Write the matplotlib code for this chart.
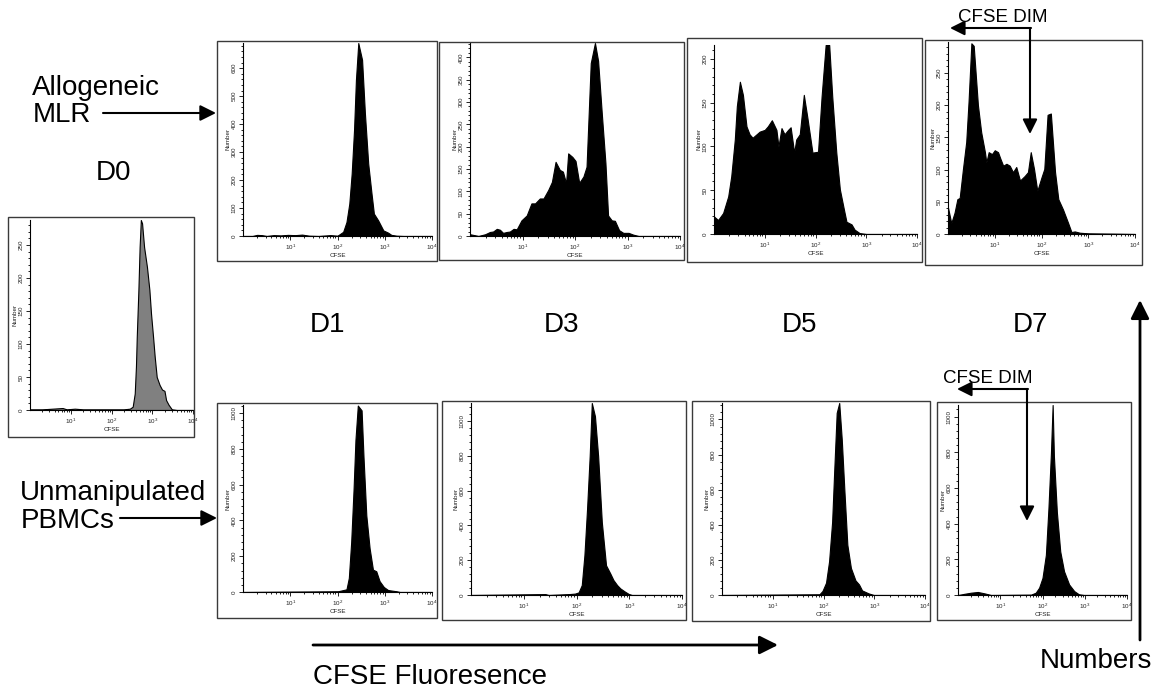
import numpy as np
import matplotlib.pyplot as plt
from matplotlib.patches import Rectangle
from matplotlib.ticker import LogLocator, MultipleLocator, NullFormatter

plt.rcParams['font.family'] = ['Liberation Sans', 'DejaVu Sans']
plt.rcParams['mathtext.fontset'] = 'custom'
plt.rcParams['mathtext.rm'] = 'Liberation Sans'
plt.rcParams['mathtext.default'] = 'regular'

W, H = 1156, 688

# CFSE histograms: log10 fluorescence vs event count
d0_logx = [0.0, 0.3, 0.55, 0.8, 0.9, 1.1, 1.3, 1.6, 2.0, 2.3, 2.45, 2.52, 2.57, 2.60, 2.62, 2.66, 2.69,
           2.72, 2.75, 2.80, 2.87, 2.93, 2.97, 3.02, 3.06, 3.11, 3.18, 3.24, 3.30, 3.34, 3.40, 3.48, 3.6, 4.0]
d0_count = [1, 1, 2, 3, 1, 2, 1, 1, 1, 1, 2, 5, 25, 66, 111, 182, 247,
            288, 283, 247, 217, 182, 146, 111, 81, 50, 38, 31, 29, 15, 8, 1, 0, 0]

mlr_d1_logx = [0.0, 0.2, 0.3, 0.4, 0.5, 0.65, 0.8, 0.95, 1.1, 1.25, 1.4, 1.6, 1.85, 2.0, 2.12, 2.19, 2.25,
               2.30, 2.35, 2.39, 2.44, 2.52, 2.58, 2.65, 2.72, 2.77, 2.86, 2.97, 3.07, 3.14, 3.25, 3.4, 4.0]
mlr_d1_count = [0, 0, 4, 3, 0, 3, 2, 4, 3, 5, 1, 0, 3, 1, 15, 50, 116,
                223, 379, 558, 690, 630, 439, 259, 152, 80, 56, 20, 12, 4, 1, 0, 0]

mlr_d3_logx = [0.0, 0.16, 0.29, 0.38, 0.44, 0.51, 0.57, 0.63, 0.70, 0.76, 0.83, 0.89, 0.98, 1.08, 1.17,
               1.24, 1.33, 1.40, 1.49, 1.56, 1.63, 1.71, 1.77, 1.83, 1.87, 1.95, 2.01, 2.08, 2.16, 2.22,
               2.30, 2.38, 2.44, 2.51, 2.58, 2.63, 2.70, 2.76, 2.84, 2.92, 3.02, 3.11, 3.21, 4.0]
mlr_d3_count = [4, 0, 4, 9, 10, 16, 14, 7, 9, 10, 16, 15, 35, 46, 73,
                73, 84, 84, 103, 121, 166, 148, 144, 118, 185, 177, 168, 119, 133, 155,
                387, 432, 392, 275, 163, 46, 35, 34, 13, 7, 7, 3, 0, 0]

mlr_d5_logx = [0.0, 0.08, 0.18, 0.28, 0.34, 0.41, 0.45, 0.51, 0.57, 0.64, 0.70, 0.76, 0.80, 0.90, 1.00,
               1.06, 1.14, 1.23, 1.27, 1.33, 1.39, 1.46, 1.51, 1.58, 1.62, 1.69, 1.77, 1.84, 1.94, 2.05,
               2.12, 2.20, 2.27, 2.33, 2.41, 2.48, 2.56, 2.61, 2.71, 2.77, 2.87, 3.0, 4.0]
mlr_d5_count = [20, 16, 24, 43, 66, 108, 146, 174, 159, 123, 114, 110, 112, 117, 119,
                123, 130, 119, 100, 121, 114, 119, 122, 93, 108, 114, 159, 133, 93, 94,
                157, 216, 216, 157, 93, 51, 28, 14, 11, 5, 1, 0, 0]

mlr_d7_logx = [0.0, 0.07, 0.14, 0.20, 0.25, 0.32, 0.39, 0.44, 0.50, 0.55, 0.64, 0.71, 0.79, 0.82, 0.87,
               0.94, 1.00, 1.07, 1.12, 1.18, 1.25, 1.32, 1.39, 1.46, 1.54, 1.64, 1.71, 1.77, 1.84, 1.91,
               2.00, 2.06, 2.13, 2.20, 2.29, 2.36, 2.46, 2.57, 2.64, 2.71, 2.82, 3.0, 3.57, 4.0]
mlr_d7_count = [41, 17, 33, 54, 56, 101, 143, 206, 296, 292, 200, 158, 127, 111, 127,
                124, 130, 127, 117, 106, 109, 106, 96, 104, 83, 90, 96, 127, 101, 67,
                88, 101, 185, 187, 96, 54, 38, 17, 3, 4, 2, 1, 0.5, 0]

pbmc_d1_logx = [0.0, 2.01, 2.19, 2.24, 2.29, 2.34, 2.38, 2.43, 2.51, 2.55, 2.61, 2.68, 2.75, 2.82,
                2.89, 2.98, 3.07, 3.25, 3.32, 4.0]
pbmc_d1_count = [0, 4, 15, 79, 281, 574, 850, 1042, 1015, 758, 428, 244, 125, 116,
                 61, 28, 11, 4, 0, 0]

pbmc_d3_logx = [0.0, 1.41, 1.47, 1.85, 1.97, 2.04, 2.10, 2.15, 2.20, 2.25, 2.29, 2.35, 2.41, 2.48,
                2.56, 2.64, 2.70, 2.77, 2.83, 2.92, 2.99, 3.05, 4.0]
pbmc_d3_count = [0, 5, 0, 5, 8, 15, 57, 229, 495, 800, 1105, 1029, 800, 419,
                 171, 124, 86, 57, 38, 19, 6, 0, 0]

pbmc_d5_logx = [0.0, 1.92, 1.98, 2.05, 2.11, 2.17, 2.21, 2.26, 2.31, 2.36, 2.41, 2.47, 2.54, 2.63,
                2.70, 2.76, 2.89, 2.99, 4.0]
pbmc_d5_count = [0, 4, 23, 70, 192, 417, 699, 1038, 1094, 886, 605, 286, 154, 83,
                 60, 26, 9, 0, 0]

pbmc_d7_logx = [0.0, 0.16, 0.31, 0.47, 0.63, 0.78, 1.73, 1.84, 1.92, 2.0, 2.08, 2.14, 2.20, 2.24,
                2.27, 2.34, 2.42, 2.51, 2.63, 2.75, 2.86, 2.98, 4.0]
pbmc_d7_count = [0, 7, 13, 17, 9, 0, 2, 13, 41, 96, 225, 483, 797, 1065,
                 779, 465, 244, 133, 59, 22, 4, 0, 0]

day_labels = ['D1', 'D3', 'D5', 'D7']

fig = plt.figure(figsize=(W / 100, H / 100), dpi=100)

# overlay in pixel coordinates for frames, labels and arrows
ov = fig.add_axes([0, 0, 1, 1])
ov.set_xlim(0, W)
ov.set_ylim(H, 0)
ov.axis('off')
ov.set_zorder(10)


def draw_panel(frame, box, logx, count, ymax, ystep, yminor, face='black'):
    fl, ft, fr, fb = frame
    ov.add_patch(Rectangle((fl, ft), fr - fl, fb - ft, fill=False, lw=1, ec='#3a3a3a'))
    l, t, r, b = box
    ax = fig.add_axes([l / W, 1 - b / H, (r - l) / W, (b - t) / H])
    ax.patch.set_alpha(0)
    x = 10 ** np.asarray(logx, float)
    ax.fill_between(x, 0, count, facecolor=face, edgecolor='black', linewidth=0.8)
    ax.set_xscale('log')
    ax.set_xlim(1, 1e4)
    ax.set_ylim(0, ymax)
    ax.set_xticks([10, 100, 1000, 10000])
    ax.set_xticklabels([r'$10^{%d}$' % k for k in range(1, 5)])
    ax.xaxis.set_minor_locator(LogLocator(base=10, subs=np.arange(2, 10)))
    ax.xaxis.set_minor_formatter(NullFormatter())
    ax.yaxis.set_major_locator(MultipleLocator(ystep))
    ax.yaxis.set_minor_locator(MultipleLocator(yminor))
    ax.tick_params(which='both', direction='out', width=0.6, labelsize=4.5, pad=1.5,
                   color='black', labelcolor='#222222')
    ax.tick_params(which='major', length=3)
    ax.tick_params(which='minor', length=1.5)
    ax.tick_params(axis='y', labelrotation=90)
    for lab in ax.get_yticklabels():
        lab.set_va('center')
    for s in ('top', 'right'):
        ax.spines[s].set_visible(False)
    for s in ('left', 'bottom'):
        ax.spines[s].set_linewidth(0.8)
    ax.set_xlabel('CFSE', fontsize=4.5, labelpad=1, color='#222222')
    ax.set_ylabel('Number', fontsize=4.5, labelpad=1, color='#222222')
    return ax


# D0 starting population
draw_panel((8, 217, 194, 437), (30, 220, 193, 410), d0_logx, d0_count, 288, 50, 10, face='#808080')

# allogeneic MLR row
draw_panel((217, 41, 437, 261), (243, 43, 432, 236), mlr_d1_logx, mlr_d1_count, 690, 100, 20)
draw_panel((439, 42, 684, 260), (470, 43, 680, 236), mlr_d3_logx, mlr_d3_count, 432, 50, 10)
draw_panel((687, 38, 922, 262), (714, 45, 917, 234), mlr_d5_logx, mlr_d5_count, 216, 50, 10)
draw_panel((925, 40, 1142, 265), (948, 42, 1135, 234), mlr_d7_logx, mlr_d7_count, 298, 50, 10)

# unmanipulated PBMC row
draw_panel((217, 403, 437, 618), (243, 405, 432, 592), pbmc_d1_logx, pbmc_d1_count, 1045, 200, 40)
draw_panel((442, 401, 686, 620), (471, 403, 682, 595), pbmc_d3_logx, pbmc_d3_count, 1105, 200, 40)
draw_panel((692, 401, 930, 621), (722, 403, 925, 595), pbmc_d5_logx, pbmc_d5_count, 1094, 200, 40)
draw_panel((937, 402, 1131, 620), (958, 405, 1127, 595), pbmc_d7_logx, pbmc_d7_count, 1065, 200, 40)

big = dict(fontsize=20, color='black')
ov.text(32, 95, 'Allogeneic', ha='left', va='baseline', **big)
ov.text(33, 122, 'MLR', ha='left', va='baseline', **big)
ov.text(114, 180, 'D0', ha='center', va='baseline', **big)
ov.text(20, 500, 'Unmanipulated', ha='left', va='baseline', **big)
ov.text(21, 528, 'PBMCs', ha='left', va='baseline', **big)
for lab, xc in zip(day_labels, [327, 562, 800, 1030]):
    ov.text(xc, 332, lab, ha='center', va='baseline', **big)
ov.text(313, 684, 'CFSE Fluoresence', ha='left', va='baseline', **big)
ov.text(1152, 668, 'Numbers', ha='right', va='baseline', **big)


def arrow(tail, tip, lw=1.5, scale=12):
    ov.annotate('', xy=tip, xytext=tail,
                arrowprops=dict(arrowstyle='-|>,head_length=0.8,head_width=0.4', lw=lw,
                                color='black', shrinkA=0, shrinkB=0, mutation_scale=scale))


arrow((103, 113), (216, 113))
arrow((120, 518), (217, 518))
arrow((313, 645), (778, 645), lw=2, scale=14)
arrow((1140, 640), (1140, 300), lw=2, scale=14)

# CFSE DIM gates
ov.text(1003, 22, 'CFSE DIM', ha='center', va='baseline', fontsize=13.5)
arrow((1031, 28), (950, 28), lw=1.5, scale=11)
arrow((1030, 28), (1030, 134), lw=1.5, scale=11)

ov.text(988, 383, 'CFSE DIM', ha='center', va='baseline', fontsize=13.5)
arrow((1028, 389), (957, 389), lw=1.5, scale=11)
arrow((1027, 389), (1027, 521), lw=1.5, scale=11)

fig.savefig('out.png', dpi=100)
